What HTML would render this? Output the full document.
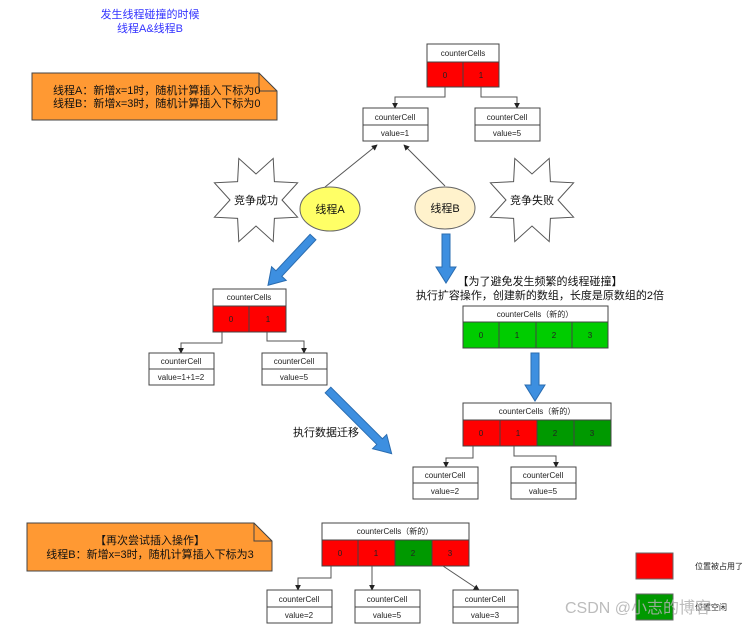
<!DOCTYPE html>
<html><head><meta charset="utf-8"><style>
html,body{margin:0;padding:0;background:#fff;}
svg{display:block;font-family:"Liberation Sans","Noto Sans CJK SC",sans-serif;}
.b{fill:#fff;stroke:#444;stroke-width:1}
.r{fill:#ff0000;stroke:#444;stroke-width:1}
.g{fill:#00cc00;stroke:#444;stroke-width:1}
.dg{fill:#009900;stroke:#444;stroke-width:1}
.c{stroke:#555;stroke-width:1;fill:none}
.s{font-size:8px;fill:#222;text-anchor:middle}
.t{font-size:11px;fill:#111}
.ba{fill:#3d8fe0;stroke:#2a6cb0;stroke-width:1}
</style></head><body>
<svg width="753" height="626" viewBox="0 0 753 626" xmlns="http://www.w3.org/2000/svg">
<defs>
<marker id="m" viewBox="0 0 8 8" refX="7" refY="4" markerWidth="6" markerHeight="6" orient="auto"><path d="M0,0 L8,4 L0,8 Z" fill="#222"/></marker>
<polygon id="star" points="26,0 41.6,17.2 18.4,18.4 17.2,41.6 0,26 -17.2,41.6 -18.4,18.4 -41.6,17.2 -26,0 -41.6,-17.2 -18.4,-18.4 -17.2,-41.6 0,-26 17.2,-41.6 18.4,-18.4 41.6,-17.2" fill="#fff" stroke="#555"/>
</defs>

<!-- title -->
<text x="150" y="18" text-anchor="middle" font-size="11" fill="#3333ff">发生线程碰撞的时候</text>
<text x="150" y="32" text-anchor="middle" font-size="11" fill="#3333ff">线程A&amp;线程B</text>

<!-- note 1 -->
<path d="M32,73 H259 L277,91 V120 H32 Z" fill="#ff9933" stroke="#444"/>
<path d="M259,73 V91 H277" fill="none" stroke="#444"/>
<text x="53" y="94" class="t">线程A：新增x=1时，随机计算插入下标为0</text>
<text x="53" y="107" class="t">线程B：新增x=3时，随机计算插入下标为0</text>

<!-- top array -->
<rect x="427" y="44" width="72" height="18" class="b"/>
<text x="463" y="56" class="s">counterCells</text>
<rect x="427" y="62" width="36" height="25" class="r"/><rect x="463" y="62" width="36" height="25" class="r"/>
<text x="445" y="78" class="s">0</text><text x="481" y="78" class="s">1</text>
<path d="M445,87 V97 H395 V108" class="c" marker-end="url(#m)"/>
<path d="M481,87 V97 H517 V108" class="c" marker-end="url(#m)"/>
<rect x="363" y="108" width="65" height="17" class="b"/><rect x="363" y="125" width="65" height="16" class="b"/>
<text x="395" y="120" class="s">counterCell</text><text x="395" y="136" class="s">value=1</text>
<rect x="475" y="108" width="65" height="17" class="b"/><rect x="475" y="125" width="65" height="16" class="b"/>
<text x="507" y="120" class="s">counterCell</text><text x="507" y="136" class="s">value=5</text>

<!-- stars -->
<use href="#star" transform="translate(256,200)"/>
<text x="256" y="204" text-anchor="middle" font-size="11" fill="#111">竞争成功</text>
<use href="#star" transform="translate(532,200)"/>
<text x="532" y="204" text-anchor="middle" font-size="11" fill="#111">竞争失败</text>

<!-- threads -->
<path d="M325,187 L377,145" class="c" marker-end="url(#m)"/>
<path d="M445,186 L404,145" class="c" marker-end="url(#m)"/>
<ellipse cx="330" cy="209" rx="30" ry="22" fill="#ffff66" stroke="#666"/>
<text x="330" y="213" text-anchor="middle" font-size="11" fill="#111">线程A</text>
<ellipse cx="445" cy="208" rx="30" ry="21" fill="#fff2cc" stroke="#666"/>
<text x="445" y="212" text-anchor="middle" font-size="11" fill="#111">线程B</text>

<!-- blue arrows -->
<g transform="translate(313,237) rotate(133)"><path d="M0,-4 H50 V-10 L66,0 L50,10 V4 H0 Z" class="ba"/></g>
<g transform="translate(446,234) rotate(90)"><path d="M0,-4 H33 V-10 L49,0 L33,10 V4 H0 Z" class="ba"/></g>
<g transform="translate(535,353) rotate(90)"><path d="M0,-4 H32 V-10 L48,0 L32,10 V4 H0 Z" class="ba"/></g>
<g transform="translate(328,390) rotate(45)"><path d="M0,-4 H73 V-10 L90,0 L73,10 V4 H0 Z" class="ba"/></g>

<!-- mid left array -->
<rect x="213" y="289" width="73" height="17" class="b"/>
<text x="249" y="300" class="s">counterCells</text>
<rect x="213" y="306" width="36" height="26" class="r"/><rect x="249" y="306" width="37" height="26" class="r"/>
<text x="231" y="322" class="s">0</text><text x="268" y="322" class="s">1</text>
<path d="M222,332 V343 H181 V353" class="c" marker-end="url(#m)"/>
<path d="M267,332 V341 H304 V353" class="c" marker-end="url(#m)"/>
<rect x="149" y="353" width="65" height="16" class="b"/><rect x="149" y="369" width="65" height="16" class="b"/>
<text x="181" y="364" class="s">counterCell</text><text x="181" y="380" class="s">value=1+1=2</text>
<rect x="262" y="353" width="65" height="16" class="b"/><rect x="262" y="369" width="65" height="16" class="b"/>
<text x="294" y="364" class="s">counterCell</text><text x="294" y="380" class="s">value=5</text>
<text x="293" y="436" class="t">执行数据迁移</text>

<!-- right side -->
<text x="540" y="285" text-anchor="middle" class="t">【为了避免发生频繁的线程碰撞】</text>
<text x="540" y="299" text-anchor="middle" class="t">执行扩容操作，创建新的数组，长度是原数组的2倍</text>
<rect x="463" y="306" width="145" height="16" class="b"/>
<text x="535" y="317" class="s">counterCells（新的）</text>
<rect x="463" y="322" width="36" height="26" class="g"/><rect x="499" y="322" width="37" height="26" class="g"/><rect x="536" y="322" width="36" height="26" class="g"/><rect x="572" y="322" width="36" height="26" class="g"/>
<text x="481" y="338" class="s">0</text><text x="517" y="338" class="s">1</text><text x="554" y="338" class="s">2</text><text x="590" y="338" class="s">3</text>

<rect x="463" y="403" width="148" height="17" class="b"/>
<text x="537" y="414" class="s">counterCells（新的）</text>
<rect x="463" y="420" width="37" height="26" class="r"/><rect x="500" y="420" width="37" height="26" class="r"/><rect x="537" y="420" width="37" height="26" class="dg"/><rect x="574" y="420" width="37" height="26" class="dg"/>
<text x="481" y="436" class="s">0</text><text x="518" y="436" class="s">1</text><text x="555" y="436" class="s">2</text><text x="592" y="436" class="s">3</text>
<path d="M473,446 V458 H446 V467" class="c" marker-end="url(#m)"/>
<path d="M514,446 V456 H556 V467" class="c" marker-end="url(#m)"/>
<rect x="413" y="467" width="65" height="16" class="b"/><rect x="413" y="483" width="65" height="16" class="b"/>
<text x="445" y="478" class="s">counterCell</text><text x="445" y="494" class="s">value=2</text>
<rect x="511" y="467" width="65" height="16" class="b"/><rect x="511" y="483" width="65" height="16" class="b"/>
<text x="543" y="478" class="s">counterCell</text><text x="543" y="494" class="s">value=5</text>

<!-- note 2 -->
<path d="M27,523 H254 L272,541 V571 H27 Z" fill="#ff9933" stroke="#444"/>
<path d="M254,523 V541 H272" fill="none" stroke="#444"/>
<text x="150" y="544" text-anchor="middle" class="t">【再次尝试插入操作】</text>
<text x="150" y="558" text-anchor="middle" class="t">线程B：新增x=3时，随机计算插入下标为3</text>

<!-- bottom array -->
<rect x="322" y="523" width="147" height="17" class="b"/>
<text x="395" y="534" class="s">counterCells（新的）</text>
<rect x="322" y="540" width="36" height="26" class="r"/><rect x="358" y="540" width="37" height="26" class="r"/><rect x="395" y="540" width="37" height="26" class="dg"/><rect x="432" y="540" width="37" height="26" class="r"/>
<text x="340" y="556" class="s">0</text><text x="376" y="556" class="s">1</text><text x="413" y="556" class="s">2</text><text x="450" y="556" class="s">3</text>
<path d="M331,566 V578 H298 V590" class="c" marker-end="url(#m)"/>
<path d="M372,566 V590" class="c" marker-end="url(#m)"/>
<path d="M443,566 L479,590" class="c" marker-end="url(#m)"/>
<rect x="267" y="590" width="65" height="17" class="b"/><rect x="267" y="607" width="65" height="16" class="b"/>
<text x="299" y="602" class="s">counterCell</text><text x="299" y="618" class="s">value=2</text>
<rect x="355" y="590" width="65" height="17" class="b"/><rect x="355" y="607" width="65" height="16" class="b"/>
<text x="387" y="602" class="s">counterCell</text><text x="387" y="618" class="s">value=5</text>
<rect x="453" y="590" width="65" height="17" class="b"/><rect x="453" y="607" width="65" height="16" class="b"/>
<text x="485" y="602" class="s">counterCell</text><text x="485" y="618" class="s">value=3</text>

<!-- legend -->
<rect x="636" y="553" width="37" height="26" fill="#ff0000" stroke="#666"/>
<text x="695" y="569" font-size="8" fill="#222">位置被占用了</text>
<rect x="636" y="594" width="37" height="26" fill="#009900" stroke="#666"/>
<text x="695" y="610" font-size="8" fill="#222">位置空闲</text>
<text x="565" y="613" font-size="16" fill="#b0b0b0" fill-opacity="0.85">CSDN @小志的博客</text>
</svg>
</body></html>
